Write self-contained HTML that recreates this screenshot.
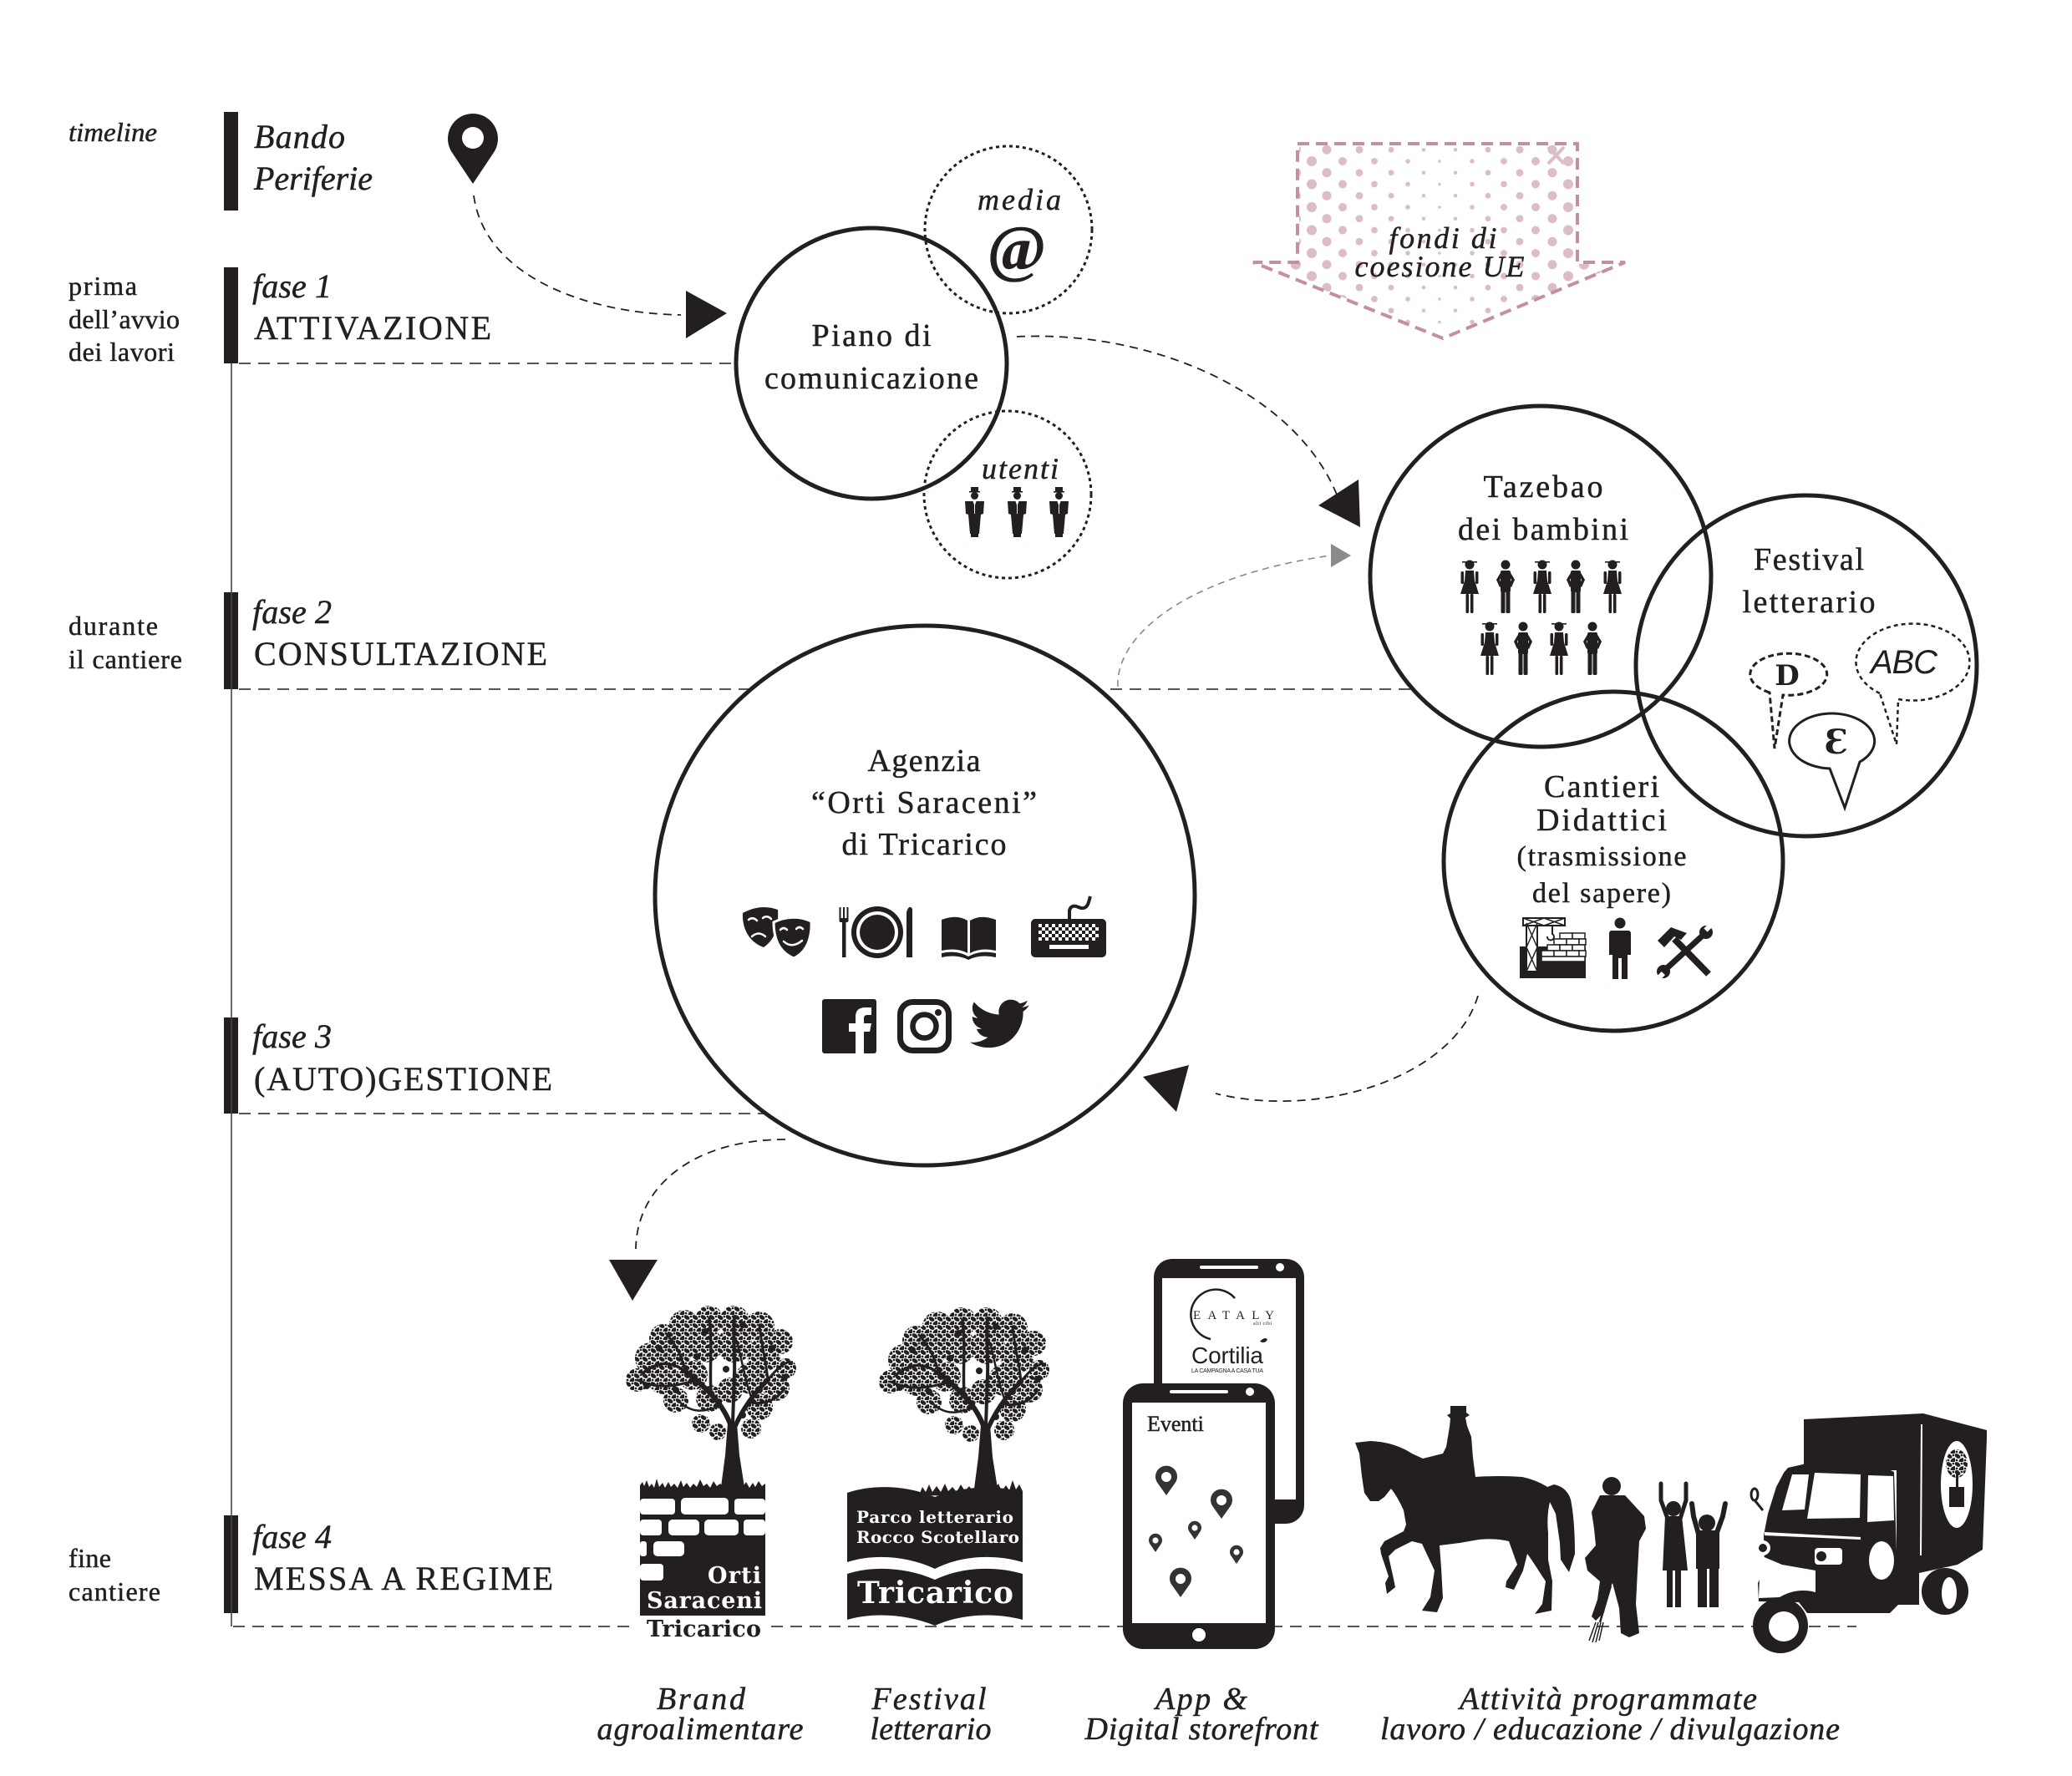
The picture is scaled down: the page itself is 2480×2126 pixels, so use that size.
<!DOCTYPE html>
<html><head><meta charset="utf-8">
<style>
html,body{margin:0;padding:0;background:#fff;}
svg{display:block;}
text{font-family:"Liberation Serif",serif;fill:#231f20;stroke:#231f20;stroke-width:0.5px;}
.it{font-style:italic;}
.sl{font-family:"DejaVu Serif","Liberation Serif",serif;font-weight:bold;stroke:none;}
.ns{stroke:none;}
</style></head><body>
<svg xmlns="http://www.w3.org/2000/svg" xmlns:xlink="http://www.w3.org/1999/xlink" width="2480" height="2126" viewBox="0 0 2480 2126">
<defs>
 <pattern id="lf" patternUnits="userSpaceOnUse" width="10" height="10">
  <ellipse cx="3" cy="3" rx="3.8" ry="2.4" transform="rotate(35 3 3)" fill="#231f20"/>
  <ellipse cx="8" cy="8" rx="3.8" ry="2.4" transform="rotate(-35 8 8)" fill="#231f20"/>
  <circle cx="8" cy="2" r="1.4" fill="#231f20"/>
  <circle cx="2" cy="8" r="1.4" fill="#231f20"/>
 </pattern>
 <pattern id="chk" patternUnits="userSpaceOnUse" x="1243" y="1106" width="8" height="8">
  <rect x="0" y="0" width="4" height="4" fill="#fff"/><rect x="4" y="4" width="4" height="4" fill="#fff"/>
 </pattern>
 <clipPath id="arrclip"><polygon points="1555,174 1886,174 1886,316 1941,316 1727,402 1504,316 1555,316"/></clipPath>
 <pattern id="dm2" patternUnits="userSpaceOnUse" x="1522.5" y="179.25" width="19" height="27.5"><circle cx="9.5" cy="13.75" r="6" fill="#dcbdc5"/></pattern>
 <pattern id="dm1" patternUnits="userSpaceOnUse" x="1541.5" y="165.5" width="19" height="27.5"><circle cx="9.5" cy="13.75" r="6" fill="#dcbdc5"/></pattern>
 <pattern id="d0" patternUnits="userSpaceOnUse" x="1560.5" y="179.25" width="19" height="27.5"><circle cx="9.5" cy="13.75" r="6" fill="#dcbdc5"/></pattern>
 <pattern id="d1" patternUnits="userSpaceOnUse" x="1578.5" y="165.5" width="19" height="27.5"><circle cx="9.5" cy="13.75" r="5.5" fill="#dcbdc5"/></pattern>
 <pattern id="d2" patternUnits="userSpaceOnUse" x="1597.5" y="179.25" width="19" height="27.5"><circle cx="9.5" cy="13.75" r="5" fill="#dcbdc5"/></pattern>
 <pattern id="d3" patternUnits="userSpaceOnUse" x="1617.5" y="165.5" width="19" height="27.5"><circle cx="9.5" cy="13.75" r="4.4" fill="#dcbdc5"/></pattern>
 <pattern id="d4" patternUnits="userSpaceOnUse" x="1635.5" y="179.25" width="19" height="27.5"><circle cx="9.5" cy="13.75" r="3.9" fill="#dcbdc5"/></pattern>
 <pattern id="d5" patternUnits="userSpaceOnUse" x="1655.5" y="165.5" width="19" height="27.5"><circle cx="9.5" cy="13.75" r="3.4" fill="#dcbdc5"/></pattern>
 <pattern id="d6" patternUnits="userSpaceOnUse" x="1675.5" y="179.25" width="19" height="27.5"><circle cx="9.5" cy="13.75" r="2.8" fill="#dcbdc5"/></pattern>
 <pattern id="d7" patternUnits="userSpaceOnUse" x="1694.5" y="165.5" width="19" height="27.5"><circle cx="9.5" cy="13.75" r="2.3" fill="#dcbdc5"/></pattern>
 <pattern id="d8" patternUnits="userSpaceOnUse" x="1713.5" y="179.25" width="19" height="27.5"><circle cx="9.5" cy="13.75" r="1.8" fill="#dcbdc5"/></pattern>
 <pattern id="d9" patternUnits="userSpaceOnUse" x="1732.5" y="165.5" width="19" height="27.5"><circle cx="9.5" cy="13.75" r="2.3" fill="#dcbdc5"/></pattern>
 <pattern id="d10" patternUnits="userSpaceOnUse" x="1752.5" y="179.25" width="19" height="27.5"><circle cx="9.5" cy="13.75" r="2.8" fill="#dcbdc5"/></pattern>
 <pattern id="d11" patternUnits="userSpaceOnUse" x="1771.5" y="165.5" width="19" height="27.5"><circle cx="9.5" cy="13.75" r="3.4" fill="#dcbdc5"/></pattern>
 <pattern id="d12" patternUnits="userSpaceOnUse" x="1790.5" y="179.25" width="19" height="27.5"><circle cx="9.5" cy="13.75" r="3.9" fill="#dcbdc5"/></pattern>
 <pattern id="d13" patternUnits="userSpaceOnUse" x="1809.5" y="165.5" width="19" height="27.5"><circle cx="9.5" cy="13.75" r="4.4" fill="#dcbdc5"/></pattern>
 <pattern id="d14" patternUnits="userSpaceOnUse" x="1828.5" y="179.25" width="19" height="27.5"><circle cx="9.5" cy="13.75" r="5" fill="#dcbdc5"/></pattern>
 <pattern id="d15" patternUnits="userSpaceOnUse" x="1848.5" y="165.5" width="19" height="27.5"><circle cx="9.5" cy="13.75" r="5.5" fill="#dcbdc5"/></pattern>
 <pattern id="d16" patternUnits="userSpaceOnUse" x="1867.5" y="179.25" width="19" height="27.5"><circle cx="9.5" cy="13.75" r="6" fill="#dcbdc5"/></pattern>
 <pattern id="d17" patternUnits="userSpaceOnUse" x="1886.5" y="165.5" width="19" height="27.5"><circle cx="9.5" cy="13.75" r="6" fill="#dcbdc5"/></pattern>
 <pattern id="d18" patternUnits="userSpaceOnUse" x="1905.5" y="179.25" width="19" height="27.5"><circle cx="9.5" cy="13.75" r="6" fill="#dcbdc5"/></pattern>

 <g id="girl" fill="#231f20">
  <circle cx="12" cy="6" r="5.5"/><rect x="3" y="2" width="18" height="1.6"/>
  <path d="M7,13 H17 L18,25 L23,41 H1 L6,25 Z"/>
  <rect x="1.5" y="14" width="3.5" height="15" rx="1.5"/><rect x="19" y="14" width="3.5" height="15" rx="1.5"/>
  <rect x="7.5" y="41" width="3.6" height="23" rx="1.2"/><rect x="12.9" y="41" width="3.6" height="23" rx="1.2"/>
 </g>
 <g id="boy" fill="#231f20">
  <circle cx="12" cy="6" r="5.5"/><rect x="6" y="13" width="12" height="26" rx="2"/>
  <path d="M7,14 L1,24 L5,33 L8,31 L5,24 L8,19Z"/><path d="M17,14 L23,24 L19,33 L16,31 L19,24 L16,19Z"/>
  <rect x="6.5" y="38" width="5" height="26" rx="1.5"/><rect x="12.5" y="38" width="5" height="26" rx="1.5"/>
 </g>
 <g id="man" fill="#231f20">
  <rect x="8" y="0" width="9" height="5"/><rect x="6" y="5" width="13" height="1.6"/>
  <circle cx="12.5" cy="10.5" r="4.5"/>
  <path d="M1,17 L24,17 L23,32 L20,33 L18,56 L7,56 L5,33 L2,32 Z"/>
  <path d="M10.5,17 L12.5,23 L14.5,17Z" fill="#fff"/>
  <line x1="12.5" y1="21" x2="12.5" y2="32" stroke="#fff" stroke-width="1"/>
  <rect x="8" y="56" width="9" height="4"/>
 </g>
 <g id="tree">
  <g fill="url(#lf)">
   <circle cx="70" cy="22" r="18"/><circle cx="100" cy="16" r="17"/><circle cx="130" cy="17" r="18"/><circle cx="160" cy="24" r="18"/>
   <circle cx="45" cy="38" r="17"/><circle cx="185" cy="42" r="15"/>
   <circle cx="30" cy="62" r="19"/><circle cx="60" cy="52" r="20"/><circle cx="95" cy="46" r="21"/><circle cx="130" cy="46" r="21"/>
   <circle cx="165" cy="58" r="20"/><circle cx="192" cy="74" r="12"/>
   <circle cx="14" cy="88" r="14"/><circle cx="45" cy="86" r="19"/><circle cx="80" cy="82" r="18"/><circle cx="150" cy="86" r="19"/>
   <circle cx="180" cy="97" r="16"/>
   <circle cx="60" cy="112" r="15"/><circle cx="100" cy="110" r="16"/><circle cx="160" cy="120" r="16"/><circle cx="125" cy="100" r="15"/>
   <circle cx="90" cy="140" r="11"/><circle cx="150" cy="146" r="12"/><circle cx="110" cy="150" r="10"/>
  </g>
  <g fill="none" stroke="#231f20" stroke-linecap="round">
   <path d="M128,150 C120,120 100,100 72,78" stroke-width="6"/>
   <path d="M72,78 C55,66 40,64 20,80" stroke-width="3.5"/>
   <path d="M72,78 C66,58 60,45 48,32" stroke-width="3"/>
   <path d="M128,150 C138,125 152,105 170,88" stroke-width="5.5"/>
   <path d="M170,88 C180,75 188,68 196,66" stroke-width="3"/>
   <path d="M170,88 C168,65 162,45 160,22" stroke-width="3"/>
   <path d="M102,100 C100,75 104,50 100,14" stroke-width="3.5"/>
   <path d="M128,140 L130,80 C131,60 128,40 130,12" stroke-width="4"/>
   <path d="M150,108 C140,80 138,55 132,40" stroke-width="2.5"/>
   <path d="M85,88 C60,95 40,100 14,88" stroke-width="3"/>
   <path d="M150,115 C170,118 182,110 190,98" stroke-width="3"/>
   <path d="M110,120 C95,125 80,130 62,112" stroke-width="2.5"/>
  </g>
  <path d="M114,216 L142,216 L136,178 L133,140 L122,140 L119,178 Z" fill="#231f20"/>
  <g fill="#231f20">
   <circle cx="40" cy="50" r="4"/><circle cx="95" cy="30" r="4"/><circle cx="140" cy="22" r="4"/>
   <circle cx="175" cy="50" r="4"/><circle cx="60" cy="100" r="4"/><circle cx="120" cy="75" r="4"/>
   <circle cx="160" cy="100" r="4"/><circle cx="85" cy="60" r="4"/><circle cx="190" cy="85" r="4"/>
   <circle cx="25" cy="95" r="4"/><circle cx="140" cy="130" r="4"/>
  </g>
 </g>
</defs>

<!-- ===== TIMELINE ===== -->
<g fill="#231f20">
 <rect x="268" y="134" width="17" height="118"/>
 <rect x="268" y="320" width="17" height="115"/>
 <rect x="268" y="709" width="17" height="116"/>
 <rect x="268" y="1218" width="17" height="115"/>
 <rect x="268" y="1814" width="17" height="117"/>
</g>
<line x1="277" y1="435" x2="277" y2="1947" stroke="#444" stroke-width="1.6"/>

<g stroke="#555" stroke-width="2" stroke-dasharray="14 9" fill="none">
 <line x1="286" y1="435" x2="880" y2="435"/>
 <line x1="286" y1="825" x2="897" y2="825"/>
 <line x1="1329" y1="825" x2="1688" y2="825"/>
 <line x1="286" y1="1333" x2="914" y2="1333"/>
 <line x1="279" y1="1947" x2="2222" y2="1947"/>
</g>

<!-- left column -->
<text x="82" y="169" class="it" font-size="32" textLength="106" lengthAdjust="spacingAndGlyphs">timeline</text>
<g font-size="32">
 <text x="82" y="353" textLength="82">prima</text>
 <text x="82" y="393" textLength="133">dell’avvio</text>
 <text x="82" y="432" textLength="127">dei lavori</text>
 <text x="82" y="760" textLength="107">durante</text>
 <text x="82" y="800" textLength="136">il cantiere</text>
 <text x="82" y="1876" textLength="51">fine</text>
 <text x="82" y="1916" textLength="110">cantiere</text>
</g>
<!-- phase column -->
<g font-size="40">
 <text x="304" y="177" class="it" textLength="109">Bando</text>
 <text x="304" y="227" class="it" textLength="142">Periferie</text>
 <text x="302" y="356" class="it" textLength="95">fase 1</text>
 <text x="304" y="406" textLength="284">ATTIVAZIONE</text>
 <text x="302" y="746" class="it" textLength="95">fase 2</text>
 <text x="304" y="796" textLength="351">CONSULTAZIONE</text>
 <text x="302" y="1254" class="it" textLength="95">fase 3</text>
 <text x="304" y="1305" textLength="357">(AUTO)GESTIONE</text>
 <text x="302" y="1853" class="it" textLength="95">fase 4</text>
 <text x="304" y="1903" textLength="358">MESSA A REGIME</text>
</g>

<!-- top pin -->
<path d="M566,220 L540,181 A30,30 0 1 1 592,181 Z" fill="#231f20"/>
<circle cx="566" cy="165" r="13" fill="#fff"/>

<!-- connectors -->
<g fill="none" stroke="#231f20" stroke-width="1.8" stroke-dasharray="10 7">
 <path d="M567,234 C580,330 700,375 815,377"/>
 <path d="M1217,403 C1380,395 1550,470 1600,592"/>
 <path d="M1769,1192 C1740,1290 1580,1340 1455,1309"/>
 <path d="M940,1364 C830,1364 762,1420 761,1495"/>
</g>
<path d="M1338,822 C1335,760 1420,690 1592,665" fill="none" stroke="#8a8a8a" stroke-width="1.6" stroke-dasharray="8 6"/>
<g fill="#231f20">
 <polygon points="821,348 821,405 870,375"/>
 <polygon points="1626,574 1628,631 1578,605"/>
 <polygon points="1368,1289 1423,1275 1408,1331"/>
 <polygon points="729,1508 787,1508 757,1557"/>
</g>
<polygon points="1593,651 1593,679 1617,665" fill="#8a8a8a"/>

<!-- pink arrow -->
<g clip-path="url(#arrclip)">
 <rect x="1522.5" y="165" width="19" height="250" fill="url(#dm2)"/>
 <rect x="1541.5" y="165" width="19" height="250" fill="url(#dm1)"/>
 <rect x="1560.5" y="165" width="18" height="250" fill="url(#d0)"/>
 <rect x="1578.5" y="165" width="19" height="250" fill="url(#d1)"/>
 <rect x="1597.5" y="165" width="20" height="250" fill="url(#d2)"/>
 <rect x="1617.5" y="165" width="18" height="250" fill="url(#d3)"/>
 <rect x="1635.5" y="165" width="20" height="250" fill="url(#d4)"/>
 <rect x="1655.5" y="165" width="20" height="250" fill="url(#d5)"/>
 <rect x="1675.5" y="165" width="19" height="250" fill="url(#d6)"/>
 <rect x="1694.5" y="165" width="19" height="250" fill="url(#d7)"/>
 <rect x="1713.5" y="165" width="19" height="250" fill="url(#d8)"/>
 <rect x="1732.5" y="165" width="20" height="250" fill="url(#d9)"/>
 <rect x="1752.5" y="165" width="19" height="250" fill="url(#d10)"/>
 <rect x="1771.5" y="165" width="19" height="250" fill="url(#d11)"/>
 <rect x="1790.5" y="165" width="19" height="250" fill="url(#d12)"/>
 <rect x="1809.5" y="165" width="19" height="250" fill="url(#d13)"/>
 <rect x="1828.5" y="165" width="20" height="250" fill="url(#d14)"/>
 <rect x="1848.5" y="165" width="19" height="250" fill="url(#d15)"/>
 <rect x="1867.5" y="165" width="19" height="250" fill="url(#d16)"/>
 <rect x="1886.5" y="165" width="19" height="250" fill="url(#d17)"/>
 <rect x="1905.5" y="165" width="40" height="250" fill="url(#d18)"/>
</g>
<polygon points="1553,172 1888,172 1888,314 1945,314 1727,405 1500,314 1553,314" fill="none" stroke="#c3909b" stroke-width="4" stroke-dasharray="14 8"/>
<g stroke="#dcbdc5" stroke-width="4"><line x1="1853" y1="176" x2="1872" y2="196"/><line x1="1872" y1="176" x2="1853" y2="196"/></g>
<text x="1727" y="297" class="it" font-size="36" text-anchor="middle" textLength="129">fondi di</text>
<text x="1723" y="331" class="it" font-size="36" text-anchor="middle" textLength="203">coesione UE</text>

<!-- ===== CIRCLES ===== -->
<g fill="none" stroke="#231f20">
 <circle cx="1043" cy="435" r="162" stroke-width="5"/>
 <circle cx="1207" cy="275" r="100" stroke-width="3" stroke-dasharray="4 4"/>
 <circle cx="1206" cy="592" r="100" stroke-width="3" stroke-dasharray="4 4"/>
 <circle cx="1844" cy="690" r="204" stroke-width="5"/>
 <circle cx="2162" cy="797" r="204" stroke-width="5"/>
 <circle cx="1931" cy="1031" r="203" stroke-width="5"/>
 <circle cx="1107" cy="1072" r="323" stroke-width="5"/>
</g>

<g font-size="38" text-anchor="middle">
 <text x="1043" y="414" textLength="143">Piano di</text>
 <text x="1043" y="465" textLength="256">comunicazione</text>
 <text x="1847" y="595" textLength="143">Tazebao</text>
 <text x="1847" y="646" textLength="204">dei bambini</text>
 <text x="2165" y="682" textLength="132">Festival</text>
 <text x="2165" y="733" textLength="159">letterario</text>
 <text x="1917" y="954" textLength="138">Cantieri</text>
 <text x="1917" y="994" textLength="156">Didattici</text>
 <text x="1917" y="1036" font-size="34" textLength="203">(trasmissione</text>
 <text x="1917" y="1080" font-size="34" textLength="166">del sapere)</text>
 <text x="1106" y="923" textLength="135">Agenzia</text>
 <text x="1106" y="973" textLength="270">“Orti Saraceni”</text>
 <text x="1106" y="1023" textLength="197">di Tricarico</text>
</g>
<text x="1220" y="251" class="it" font-size="36" text-anchor="middle" textLength="100">media</text>
<text x="1217" y="323" font-size="76" font-weight="bold" text-anchor="middle">@</text>
<text x="1221" y="573" class="it" font-size="36" text-anchor="middle" textLength="92">utenti</text>
<use xlink:href="#man" x="1154" y="583"/>
<use xlink:href="#man" x="1205" y="583"/>
<use xlink:href="#man" x="1255" y="583"/>

<!-- kids -->
<use xlink:href="#girl" x="1747" y="670"/>
<use xlink:href="#boy" x="1790" y="670"/>
<use xlink:href="#girl" x="1834" y="670"/>
<use xlink:href="#boy" x="1874" y="670"/>
<use xlink:href="#girl" x="1918" y="670"/>
<use xlink:href="#girl" x="1771" y="744"/>
<use xlink:href="#boy" x="1811" y="744"/>
<use xlink:href="#girl" x="1854" y="744"/>
<use xlink:href="#boy" x="1894" y="744"/>

<!-- speech bubbles -->
<g fill="none" stroke="#231f20">
 <path d="M2118,829 A46,25 0 1 1 2134,832 L2124,896 Z" stroke-width="3" stroke-dasharray="7 4" fill="#fff"/>
 <path d="M2250,830 A68,46 0 1 1 2272,837 L2270,891 Z" stroke-width="2.5" stroke-dasharray="5 4" fill="#fff"/>
 <path d="M2190,920 A51,33 0 1 1 2226,912 L2208,967 Z" stroke-width="3" fill="#fff"/>
</g>
<text x="2139" y="820" font-size="34" font-weight="bold" text-anchor="middle" class="ns" style="font-family:'DejaVu Serif',serif">D</text>
<text x="2279" y="806" font-size="40" font-style="italic" text-anchor="middle" textLength="80" class="ns" style="font-family:'Liberation Sans',sans-serif">ABC</text>
<text x="2198" y="902" font-size="40" font-weight="bold" text-anchor="middle" class="ns" style="font-family:'DejaVu Serif',serif">Ɛ</text>

<!-- Cantieri icons -->
<g>
 <rect x="1819" y="1133" width="79" height="38" fill="#231f20"/>
 <g fill="#fff" stroke="#231f20" stroke-width="1.5">
  <rect x="1867" y="1117" width="15" height="7"/><rect x="1882" y="1117" width="15" height="7"/>
  <rect x="1860" y="1124" width="15" height="7"/><rect x="1875" y="1124" width="15" height="7"/><rect x="1890" y="1124" width="8" height="7"/>
  <rect x="1852" y="1131" width="15" height="7"/><rect x="1867" y="1131" width="15" height="7"/><rect x="1882" y="1131" width="15" height="7"/>
  <rect x="1845" y="1138" width="15" height="7"/><rect x="1860" y="1138" width="15" height="7"/><rect x="1875" y="1138" width="15" height="7"/><rect x="1890" y="1138" width="8" height="7"/>
  <rect x="1845" y="1145" width="52" height="6"/>
 </g>
 <g fill="#fff" stroke="#231f20" stroke-width="2">
  <rect x="1827" y="1105" width="13" height="58"/>
  <rect x="1823" y="1099" width="50" height="9"/>
 </g>
 <g stroke="#231f20" stroke-width="1.5">
  <path d="M1827,1105 L1840,1134 M1840,1105 L1827,1134 M1827,1134 L1840,1163 M1840,1134 L1827,1163"/>
  <path d="M1823,1099 L1848,1108 M1848,1099 L1823,1108 M1848,1099 L1873,1108 M1873,1099 L1848,1108"/>
 </g>
 <path d="M1858,1108 V1118 a4,4 0 1 1 -6,3" fill="none" stroke="#231f20" stroke-width="2"/>
 <circle cx="1939" cy="1105" r="6.5" fill="#231f20"/>
 <path d="M1929,1114 H1949 Q1952,1114 1952,1118 V1143 H1948 V1172 H1941 V1147 H1937 V1172 H1930 V1143 H1926 V1118 Q1926,1114 1929,1114 Z" fill="#231f20"/>
 <line x1="2004" y1="1124" x2="2045" y2="1166" stroke="#231f20" stroke-width="8"/>
 <polygon points="1984,1126 2000,1110 2019,1117 2012,1125 2004,1121 1992,1134" fill="#231f20"/>
 <line x1="1994" y1="1160" x2="2040" y2="1118" stroke="#231f20" stroke-width="7"/>
 <circle cx="2042" cy="1116" r="8" fill="#231f20"/><circle cx="1991" cy="1163" r="8" fill="#231f20"/>
 <rect x="2042" y="1106" width="6" height="9" fill="#fff" transform="rotate(45 2045 1110)"/>
 <rect x="1985" y="1164" width="6" height="9" fill="#fff" transform="rotate(45 1988 1168)"/>
</g>

<!-- Agenzia icons -->
<g fill="#231f20">
 <path d="M889,1093 C903,1085 918,1084 931,1089 C932,1105 930,1123 914,1134 C897,1128 888,1112 889,1093Z"/>
 <path d="M926,1104 C940,1097 957,1096 971,1103 C972,1122 966,1140 950,1147 C933,1140 926,1124 926,1104Z" stroke="#fff" stroke-width="3"/>
 <g fill="none" stroke="#fff" stroke-width="2.5" stroke-linecap="round">
  <path d="M896,1101 q5,-4 10,1"/><path d="M913,1099 q5,-4 10,1"/><path d="M900,1121 q8,-7 16,0"/>
  <path d="M934,1113 q4,-4 8,0"/><path d="M953,1112 q4,-4 8,0"/><path d="M938,1127 q10,9 22,-1"/>
 </g>
 <rect x="1008" y="1100" width="4.5" height="46"/>
 <rect x="1004.5" y="1086" width="2" height="16"/><rect x="1009" y="1086" width="2" height="16"/><rect x="1013.5" y="1086" width="2" height="16"/>
 <rect x="1004.5" y="1099" width="11" height="5" rx="2"/>
 <circle cx="1050" cy="1116" r="31"/>
 <circle cx="1050" cy="1116" r="25" fill="#fff"/>
 <circle cx="1050" cy="1116" r="21"/>
 <path d="M1085,1146 L1085,1092 Q1088,1082 1092,1088 L1092,1146 Z"/>
 <path d="M1127,1101 Q1145,1094 1158,1102 L1158,1141 Q1145,1134 1127,1138 Z"/>
 <path d="M1161,1102 Q1174,1094 1192,1101 L1192,1138 Q1174,1134 1161,1141 Z"/>
 <path d="M1127,1141 Q1145,1137 1159,1145 Q1173,1137 1192,1141 L1192,1146 Q1173,1142 1159,1149 Q1145,1142 1127,1146 Z"/>
 <rect x="1234" y="1100" width="90" height="46" rx="5"/>
 <rect x="1243" y="1106" width="72" height="20" fill="url(#chk)"/>
 <rect x="1256" y="1131" width="47" height="5" fill="#fff"/>
 <path d="M1280,1100 L1280,1090 Q1282,1082 1291,1086 Q1300,1090 1303,1080 L1305,1073" fill="none" stroke="#231f20" stroke-width="4"/>
 <rect x="984" y="1196" width="65" height="65" rx="3"/>
 <path d="M1024,1261 V1235 H1016 V1225 H1024 V1217 Q1024,1206 1036,1206 H1043 V1215 H1038 Q1034,1215 1034,1219 V1225 H1043 L1041,1235 H1034 V1261 Z" fill="#fff"/>
 <rect x="1077.5" y="1199.5" width="58" height="58" rx="15" fill="none" stroke="#231f20" stroke-width="7"/>
 <circle cx="1106.5" cy="1228.5" r="14" fill="none" stroke="#231f20" stroke-width="6.5"/>
 <circle cx="1123" cy="1212" r="4"/>
 <path transform="translate(1161,1190) scale(2.95)" d="M23.954 4.569c-.885.389-1.830.654-2.825.775 1.014-.611 1.794-1.574 2.163-2.723-.951.555-2.005.959-3.127 1.184-.896-.959-2.173-1.559-3.591-1.559-2.717 0-4.920 2.203-4.920 4.917 0 .39.045.765.127 1.124C7.691 8.094 4.066 6.130 1.640 3.161c-.427.722-.666 1.561-.666 2.475 0 1.710.870 3.213 2.188 4.096-.807-.026-1.566-.248-2.228-.616v.061c0 2.385 1.693 4.374 3.946 4.827-.413.111-.849.171-1.296.171-.314 0-.615-.030-.916-.086.631 1.953 2.445 3.377 4.604 3.417-1.680 1.319-3.809 2.105-6.102 2.105-.390 0-.779-.023-1.170-.067 2.189 1.394 4.768 2.209 7.557 2.209 9.054 0 13.999-7.496 13.999-13.986 0-.209 0-.420-.015-.630.961-.689 1.800-1.560 2.460-2.548l-.047-.020z"/>
</g>

<!-- ===== BOTTOM: LOGO 1 ===== -->
<rect x="760" y="1935" width="160" height="30" fill="#fff"/>
<use xlink:href="#tree" x="749" y="1564"/>
<path d="M766,1786 L766,1778 L769,1774 L771,1779 L774,1772 L777,1780 L780,1776 L783,1781 L786,1770 L789,1780 L793,1775 L796,1781 L800,1774 L803,1780 L807,1776 L811,1781 L815,1772 L818,1780 L822,1775 L826,1781 L830,1776 L834,1780 L838,1771 L842,1779 L846,1776 L850,1781 L854,1773 L858,1779 L862,1776 L866,1780 L870,1772 L878,1772 L882,1779 L886,1770 L889,1780 L893,1774 L897,1781 L901,1775 L904,1780 L908,1773 L912,1779 L916,1776 L916,1786 Z" fill="#231f20"/>
<rect x="766" y="1784" width="150" height="150" fill="#231f20"/>
<g fill="#fff">
 <rect x="766" y="1794" width="42" height="19" rx="4"/><rect x="815" y="1793" width="57" height="20" rx="5"/><rect x="879" y="1794" width="37" height="19" rx="4"/>
 <rect x="766" y="1819" width="26" height="19" rx="4"/><rect x="800" y="1819" width="37" height="19" rx="5"/><rect x="843" y="1819" width="41" height="19" rx="5"/><rect x="890" y="1819" width="26" height="19" rx="4"/>
 <rect x="766" y="1845" width="8" height="18" rx="3"/><rect x="782" y="1845" width="37" height="18" rx="5"/>
 <rect x="766" y="1872" width="28" height="20" rx="4"/>
</g>
<text x="911" y="1895" class="sl" font-size="27" style="fill:#fff" text-anchor="end" textLength="64">Orti</text>
<text x="912" y="1925" class="sl" font-size="27" style="fill:#fff" text-anchor="end" textLength="138">Saraceni</text>
<text x="774" y="1959" class="sl" font-size="27" textLength="137">Tricarico</text>

<!-- LOGO 2 -->
<use xlink:href="#tree" x="1052" y="1566"/>
<path d="M1100,1790 L1104,1780 L1108,1786 L1112,1777 L1116,1786 L1121,1779 L1126,1786 L1131,1776 L1135,1785 L1140,1780 L1145,1786 L1150,1777 L1155,1785 L1160,1779 L1165,1786 L1170,1774 L1186,1774 L1190,1782 L1195,1776 L1199,1785 L1204,1778 L1208,1784 L1212,1772 L1216,1783 L1220,1777 L1224,1785 L1224,1792 Z" fill="#231f20"/>
<path d="M1014,1787 C1040,1778 1080,1776 1119,1792 C1150,1780 1190,1776 1224,1787 L1224,1870 C1190,1860 1150,1862 1119,1878 C1085,1862 1045,1860 1014,1870 Z" fill="#231f20"/>
<path d="M1014,1884 C1045,1874 1085,1876 1119,1891 C1150,1876 1190,1874 1224,1884 L1224,1939 C1190,1930 1150,1932 1119,1946 C1085,1932 1045,1930 1014,1939 Z" fill="#231f20"/>
<text x="1025" y="1823" class="sl" font-size="20" style="fill:#fff" textLength="188">Parco letterario</text>
<text x="1025" y="1847" class="sl" font-size="20" style="fill:#fff" textLength="195">Rocco Scotellaro</text>
<text x="1026" y="1919" class="sl" font-size="36" style="fill:#fff" textLength="187">Tricarico</text>

<!-- PHONES -->
<rect x="1381" y="1507" width="180" height="317" rx="22" fill="#231f20"/>
<rect x="1391" y="1530" width="160" height="265" fill="#fff"/>
<rect x="1436" y="1515" width="70" height="4" rx="2" fill="#fff"/>
<circle cx="1532" cy="1517" r="5" fill="#fff"/>
<path d="M1478,1554 A30,30 0 1 0 1449,1603" fill="none" stroke="#231f20" stroke-width="2.5"/>
<text x="1428" y="1579" font-size="15" textLength="97" class="ns">EATALY</text>
<text x="1500" y="1586" font-size="6" textLength="22" class="ns">alti cibi</text>
<text x="1426" y="1632" font-size="28" textLength="86" class="ns" style="font-family:'Liberation Sans',sans-serif">Cortilia</text>
<path d="M1508,1606 q5,-6 9,-3 q-2,6 -9,3z" fill="#231f20"/>
<text x="1426" y="1643" font-size="7" textLength="86" class="ns" style="font-family:'Liberation Sans',sans-serif">LA CAMPAGNA A CASA TUA</text>

<rect x="1344" y="1656" width="182" height="318" rx="24" fill="#231f20"/>
<rect x="1355" y="1679" width="160" height="264" fill="#fff"/>
<rect x="1400" y="1664" width="70" height="4" rx="2" fill="#fff"/>
<circle cx="1496" cy="1666" r="5" fill="#fff"/>
<circle cx="1435" cy="1957" r="8" fill="#fff"/>
<text x="1373" y="1713" font-size="26">Eventi</text>
<g fill="#333">
 <path d="M1396,1790 L1385,1774.5 A13,13 0 1 1 1407,1774.5 Z"/>
 <path d="M1462,1818 L1451,1802.5 A13,13 0 1 1 1473,1802.5 Z"/>
 <path d="M1413,1912 L1402,1896.5 A13,13 0 1 1 1424,1896.5 Z"/>
 <path d="M1430,1843 L1423.2,1833 A8,8 0 1 1 1436.8,1833 Z"/>
 <path d="M1383,1858 L1376.2,1848 A8,8 0 1 1 1389.8,1848 Z"/>
 <path d="M1480,1872 L1473.2,1862 A8,8 0 1 1 1486.8,1862 Z"/>
</g>
<g fill="#fff">
 <circle cx="1396" cy="1768" r="6"/><circle cx="1462" cy="1796" r="6"/><circle cx="1413" cy="1890" r="6"/>
 <circle cx="1430" cy="1829" r="3.6"/><circle cx="1383" cy="1844" r="3.6"/><circle cx="1480" cy="1858" r="3.6"/>
</g>

<!-- HORSE -->
<path fill="#231f20" d="M1622,1727 L1640,1725 Q1668,1726 1690,1740 L1703,1746 L1727,1740 L1731,1732 L1733,1720 L1735,1708 L1736,1698 L1732,1694 L1736,1692 L1736,1683 L1755,1683 L1755,1691 L1759,1694 L1754,1697 L1756,1707 L1761,1720 L1763,1745 L1766,1768 Q1795,1766 1822,1768 Q1840,1772 1852,1780 L1860,1777 Q1875,1780 1880,1795 Q1885,1820 1885,1860 L1878,1882 L1868,1867 L1867,1847 L1862,1812 L1855,1798 Q1851,1815 1853,1835 L1853,1867 L1858,1893 L1857,1928 L1837,1932 L1846,1920 L1850,1893 L1833,1867 L1828,1860 L1823,1880 L1812,1903 L1802,1900 L1803,1893 L1816,1873 L1806,1845 Q1790,1841 1770,1843 L1747,1847 L1723,1850 L1725,1877 L1727,1913 L1720,1930 L1702,1928 L1712,1912 L1717,1880 L1702,1848 L1690,1845 L1670,1855 L1662,1863 L1668,1890 L1670,1900 L1660,1908 L1658,1895 L1662,1887 L1653,1860 L1652,1853 L1657,1845 L1680,1833 L1683,1825 L1680,1808 Q1673,1792 1665,1782 L1657,1792 L1650,1797 L1640,1797 L1633,1787 L1630,1767 L1627,1740 Z"/>
<!-- kneeling man -->
<circle cx="1929" cy="1779" r="11" fill="#231f20"/>
<polygon fill="#231f20" points="1915,1790 1945,1790 1968,1815 1970,1830 1962,1845 1960,1880 1958,1920 1962,1955 1950,1960 1940,1955 1938,1925 1930,1895 1925,1905 1920,1930 1910,1940 1905,1935 1912,1915 1915,1893 1900,1880 1897,1865 1910,1850 1908,1830 1905,1810"/>
<g stroke="#231f20" stroke-width="1.5"><line x1="1910" y1="1942" x2="1902" y2="1964"/><line x1="1913" y1="1942" x2="1906" y2="1966"/><line x1="1916" y1="1942" x2="1910" y2="1966"/><line x1="1919" y1="1942" x2="1914" y2="1964"/><line x1="1928" y1="1898" x2="1915" y2="1942" stroke-width="2.5"/></g>
<!-- kids -->
<g fill="#231f20" stroke="#231f20" stroke-linecap="round">
 <circle cx="2003" cy="1806" r="9" stroke="none"/>
 <path d="M1996,1818 L1988,1796 L1988,1776" fill="none" stroke-width="5"/>
 <path d="M2011,1818 L2018,1796 L2018,1776" fill="none" stroke-width="5"/>
 <polygon points="1993,1815 2013,1815 2020,1880 1990,1880" stroke="none"/>
 <rect x="1995" y="1878" width="7" height="46" stroke="none"/><rect x="2005" y="1878" width="7" height="46" stroke="none"/>
 <circle cx="2043" cy="1823" r="10" stroke="none"/>
 <path d="M2034,1840 L2027,1815 L2025,1800" fill="none" stroke-width="6"/>
 <path d="M2053,1840 L2062,1815 L2065,1800" fill="none" stroke-width="6"/>
 <rect x="2030" y="1832" width="28" height="46" stroke="none"/>
 <rect x="2032" y="1876" width="11" height="48" stroke="none"/><rect x="2046" y="1876" width="11" height="48" stroke="none"/>
</g>

<!-- APE -->
<polygon fill="#231f20" points="2159,1699 2302,1692 2378,1712 2378,1722 2373,1855 2343,1873 2297,1883 2297,1921 2270,1921 2270,1760 2159,1760"/>
<line x1="2300" y1="1705" x2="2299" y2="1862" stroke="#fff" stroke-width="2"/>
<ellipse cx="2342" cy="1777" rx="19" ry="52" fill="#fff"/>
<ellipse cx="2342" cy="1752" rx="13" ry="17" fill="url(#lf)"/>
<rect x="2341" y="1760" width="3" height="20" fill="#231f20"/>
<rect x="2333" y="1780" width="18" height="24" fill="#231f20"/>
<path d="M2097,1792 L2110,1808" stroke="#231f20" stroke-width="3"/>
<ellipse cx="2100" cy="1789" rx="4" ry="7" fill="#fff" stroke="#231f20" stroke-width="3"/>
<path fill="#231f20" d="M2135,1763 L2140,1757 L2162,1752 L2250,1754 L2267,1762 L2272,1921 L2262,1931 L2163,1931 L2153,1918 L2105,1917 L2104,1895 L2112,1878 L2111,1838 L2116,1812 L2126,1780 Z"/>
<g fill="#fff">
 <polygon points="2172,1763 2227,1765 2226,1817 2163,1818"/>
 <polygon points="2145,1765 2165,1765 2160,1807 2133,1808"/>
 <polygon points="2236,1766 2266,1767 2267,1820 2235,1822"/>
 <polygon points="2112,1834 2227,1840 2227,1843 2112,1838"/>
 <path d="M2107,1862 L2133,1873 L2173,1880 L2173,1906 Q2150,1900 2130,1912 L2105,1913 Z"/>
 <circle cx="2110" cy="1853" r="9"/>
 <rect x="2172" y="1853" width="33" height="20" rx="4"/>
 <ellipse cx="2252" cy="1868" rx="15" ry="23"/>
</g>
<circle cx="2110" cy="1853" r="5" fill="#231f20"/>
<circle cx="2180" cy="1863" r="6" fill="#231f20"/>
<circle cx="2131" cy="1946" r="33" fill="#231f20"/>
<circle cx="2135" cy="1947" r="18" fill="#fff"/>
<circle cx="2328" cy="1905" r="28" fill="#231f20"/>
<ellipse cx="2333" cy="1907" rx="9" ry="19" fill="#fff"/>

<!-- bottom labels -->
<g class="it" font-size="38" text-anchor="middle" font-style="italic">
 <text x="839" y="2046" textLength="106">Brand</text>
 <text x="838" y="2082" textLength="247">agroalimentare</text>
 <text x="1112" y="2046" textLength="137">Festival</text>
 <text x="1114" y="2082" textLength="145">letterario</text>
 <text x="1438" y="2046" textLength="110">App &amp;</text>
 <text x="1438" y="2082" textLength="279">Digital storefront</text>
 <text x="1925" y="2046" textLength="356">Attività programmate</text>
 <text x="1927" y="2082" textLength="550">lavoro / educazione / divulgazione</text>
</g>
</svg>
</body></html>
